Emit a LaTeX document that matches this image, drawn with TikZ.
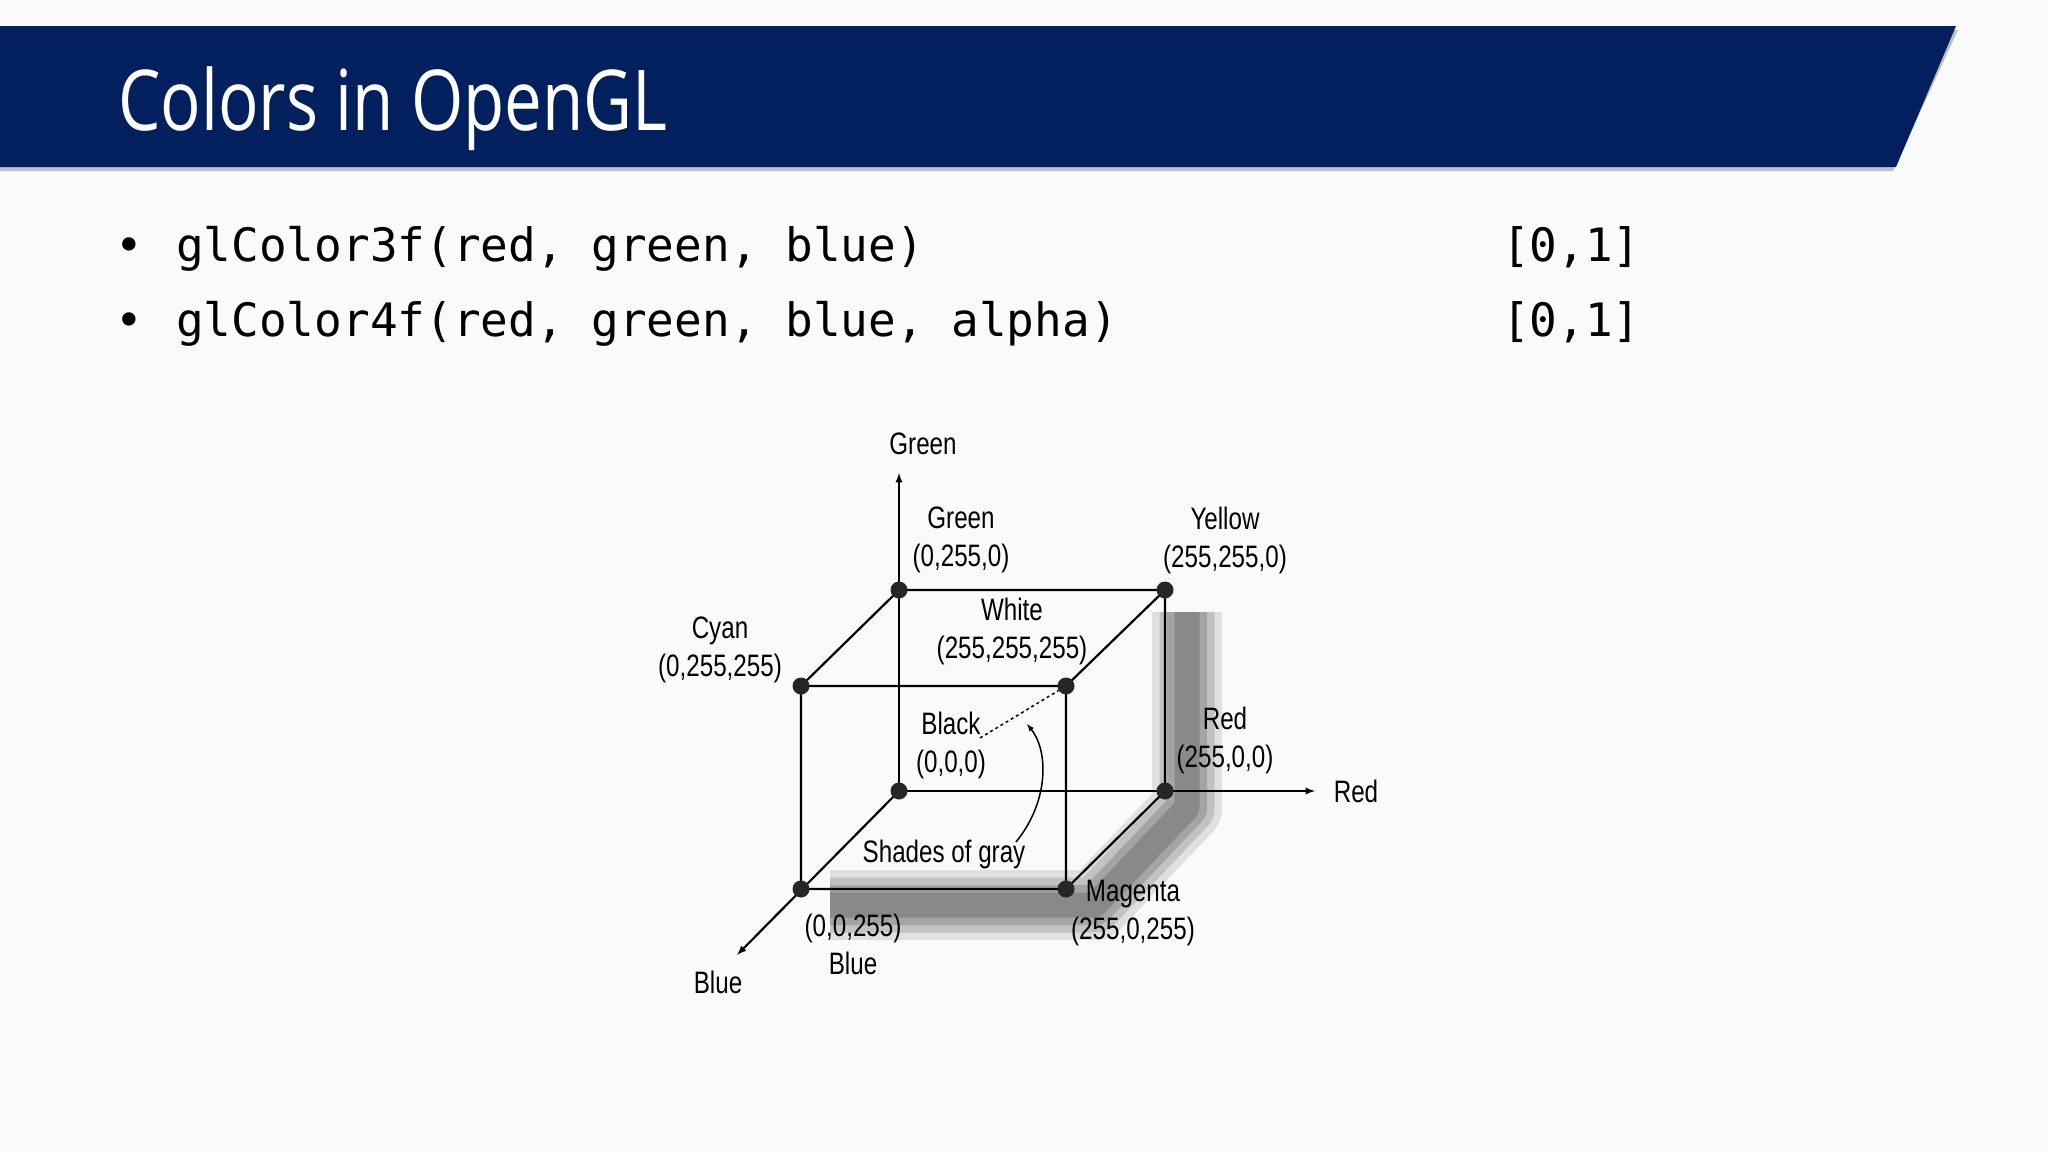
\documentclass[tikz,border=0pt]{standalone}
\usepackage{fontspec}
\setmainfont{Liberation Sans}
\newfontfamily\titlefont{Open Sans}
\newfontfamily\codefont{DejaVu Sans Mono}
\newcommand{\Lb}[1]{\scalebox{.78}[1]{#1}}
\begin{document}
\begin{tikzpicture}[x=1pt,y=-1pt,
  lab/.style={font=\fontsize{31}{38}\selectfont, align=center, inner sep=0pt},
  code/.style={font=\codefont\fontsize{46}{50}\selectfont, anchor=base west, inner sep=0pt},
  edge/.style={line width=2.2pt},
  vtx/.style={circle, fill=black!85, inner sep=0pt, minimum size=17pt}]
\useasboundingbox (0,0) rectangle (2048,1152);
\fill[white!98!black] (0,0) rectangle (2048,1152);
% header
\fill[black!25] (0,171) -- (1893,171) -- (1958,30) -- (0,30) -- cycle;
\fill[fill={rgb,255:red,2;green,31;blue,94}] (0,26) -- (1956,26) -- (1896,167) -- (0,167) -- cycle;
\node[anchor=base west, text=white, font=\titlefont\fontsize{84}{90}\selectfont\addfontfeature{FakeStretch=0.8}, inner sep=0pt] (title) at (118,130) {Colors in OpenGL};
% bullets
\node[code] (b1) at (115,261) {•};
\node[code] (c1) at (176,261) {glColor3f(red, green, blue)};
\node[code] (r1) at (1502,261) {[0,1]};
\node[code] (b2) at (115,336) {•};
\node[code] (c2) at (176,336) {glColor4f(red, green, blue, alpha)};
\node[code] (r2) at (1502,336) {[0,1]};
% shadow
\foreach \w/\o in {70/0.15,55/0.2,40/0.25,25/0.3}
  \draw[line width=\w pt, black!70, opacity=\o, line join=round] (1187,612) -- (1187,808) -- (1095,905) -- (830,905);
% vertices
\coordinate (K) at (899,791);
\coordinate (R) at (1165,791);
\coordinate (G) at (899,590);
\coordinate (Y) at (1165,590);
\coordinate (C) at (801,686);
\coordinate (W) at (1066,686);
\coordinate (B) at (801,889);
\coordinate (M) at (1066,889);
\coordinate (Rx) at (1315,791);
\coordinate (Gx) at (899,473);
\coordinate (Bx) at (737,955);
\draw[edge] (G) -- (Y) -- (R) (C) -- (W) -- (M) -- (B) -- cycle
  (G) -- (C) (Y) -- (W) (R) -- (M);
\draw[edge,-latex] (K) -- (Rx);
\draw[edge,-latex] (K) -- (Gx);
\draw[edge,-latex] (K) -- (Bx);
\foreach \p in {K,R,G,Y,C,W,B,M} \node[vtx] (v\p) at (\p) {};
% labels
\node[lab] (lgx) at (923,444) {\Lb{Green}};
\node[lab] (lg) at (961,540) {\Lb{Green}\\\Lb{(0,255,0)}};
\node[lab] (ly) at (1225,540) {\Lb{Yellow}\\\Lb{(255,255,0)}};
\node[lab] (lw) at (1012,631) {\Lb{White}\\\Lb{(255,255,255)}};
\node[lab] (lc) at (720,650) {\Lb{Cyan}\\\Lb{(0,255,255)}};
\node[lab] (lk) at (951,745) {\Lb{Black}\\\Lb{(0,0,0)}};
\node[lab] (lr) at (1225,740) {\Lb{Red}\\\Lb{(255,0,0)}};
\node[lab] (lrx) at (1356,791) {\Lb{Red}};
\node[lab] (ls) at (944,854) {\Lb{Shades\ of\ gray}};
\node[lab] (lm) at (1133,913) {\Lb{Magenta}\\\Lb{(255,0,255)}};
\node[lab] (lb) at (853,944) {\Lb{(0,0,255)}\\\Lb{Blue}};
\node[lab] (lbx) at (718,982) {\Lb{Blue}};
% diagonal
\coordinate (d0) at (980,738);
\draw[line width=1.5pt, dashed] (d0) -- (vW);
\coordinate (a0) at (1016,842);
\coordinate (a1) at (1027,724);
\draw[line width=1.5pt, -latex] (a0) .. controls (1050,800) and (1048,750) .. (a1);
\end{tikzpicture}
\end{document}
